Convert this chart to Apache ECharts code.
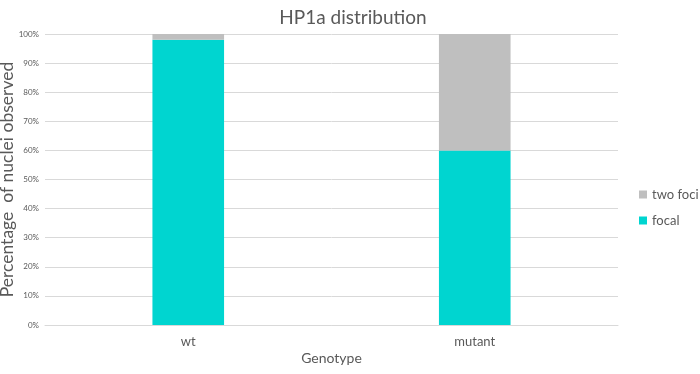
<!DOCTYPE html>
<html><head><meta charset="utf-8">
<script src="https://cdn.jsdelivr.net/npm/echarts@6/dist/echarts.min.js"></script>
<style>html,body{margin:0;padding:0;background:#fff}#c{width:700px;height:374px}</style>
</head><body><div id="c"></div>
<script>
var categories = ['wt', 'mutant'];
var focal = [98, 60];
var twoFoci = [2, 40];
var yTicks = [0, 10, 20, 30, 40, 50, 60, 70, 80, 90, 100];

var font = 'Lato, "Open Sans", sans-serif';
var chart = echarts.init(document.getElementById('c'));
chart.setOption({
  animation: false,
  title: { text: 'HP1a distribution', left: 348, top: 3, textAlign: 'center',
    textStyle: { fontFamily: font, fontSize: 19, fontWeight: 'normal', color: '#595959' } },
  legend: {
    data: ['two foci', 'focal'], orient: 'vertical', left: 634, top: 183,
    itemWidth: 8, itemHeight: 8, itemGap: 13, icon: 'rect',
    textStyle: { fontFamily: font, fontSize: 13, color: '#595959' }
  },
  grid: { left: 45, right: 82, top: 34, bottom: 49, containLabel: false, outerBoundsMode: 'none' },
  xAxis: {
    type: 'category', data: categories,
    name: 'Genotype', nameLocation: 'middle', nameGap: 26, nameMoveOverlap: false,
    nameTextStyle: { fontFamily: font, fontSize: 14, color: '#595959' },
    axisLine: { lineStyle: { color: '#D9D9D9' } },
    axisTick: { show: false },
    axisLabel: { fontFamily: font, fontSize: 13, color: '#595959', margin: 10 }
  },
  yAxis: {
    type: 'value', min: 0, max: 100, interval: 10,
    name: 'Percentage  of nuclei observed', nameLocation: 'middle', nameGap: 29, nameMoveOverlap: false,
    nameTextStyle: { fontFamily: font, fontSize: 17.5, color: '#595959' },
    axisLine: { show: false }, axisTick: { show: false },
    axisLabel: { fontFamily: font, fontSize: 8, color: '#595959', margin: 6,
      formatter: function (v) { return yTicks.indexOf(v) >= 0 ? v + '%' : ''; } },
    splitLine: { lineStyle: { color: '#D9D9D9' } }
  },
  series: [
    { name: 'focal', type: 'bar', stack: 's', data: focal, barWidth: '25%',
      itemStyle: { color: '#00D5D0' } },
    { name: 'two foci', type: 'bar', stack: 's', data: twoFoci, barWidth: '25%',
      itemStyle: { color: '#BFBFBF' } }
  ]
});
</script></body></html>
